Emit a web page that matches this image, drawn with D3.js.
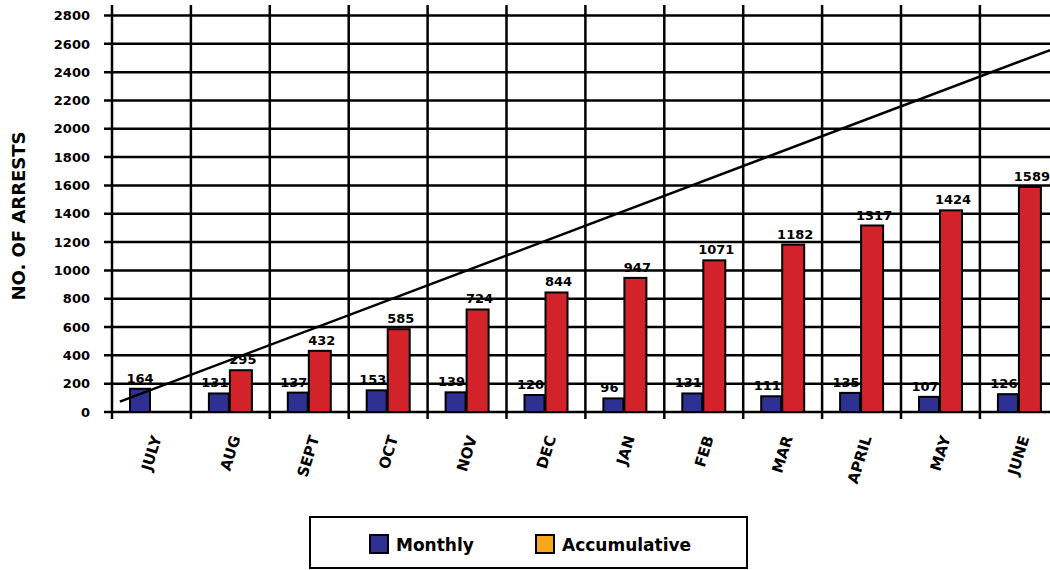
<!DOCTYPE html>
<html>
<head>
<meta charset="utf-8">
<script src="https://cdn.jsdelivr.net/npm/d3@7"></script>
<style>
  html, body { margin: 0; padding: 0; background: #fff; }
  svg { display: block; }
  text { font-family: "DejaVu Sans", "Liberation Sans", sans-serif; }
</style>
</head>
<body>
<svg id="chart" width="1050" height="570"></svg>
<script>
// ---- Data ----
const months = ["JULY","AUG","SEPT","OCT","NOV","DEC","JAN","FEB","MAR","APRIL","MAY","JUNE"];
const monthly = [164,131,137,153,139,120,96,131,111,135,107,126];
const accumulative = [null,295,432,585,724,844,947,1071,1182,1317,1424,1589];
const yTicks = [0,200,400,600,800,1000,1200,1400,1600,1800,2000,2200,2400,2600,2800];
// trend line endpoints: position in months from JULY (0 = JULY), value
const trendPos = [-0.4, 11.39];
const trendVal = [73, 2556];
const legendLabels = ["Monthly", "Accumulative"];

// ---- Styles ----
const colMonthly = "#2E3192";
const colAccum = "#D2232A";
const colLegendAccum = "#F7A71C";

const svg = d3.select("#chart");
svg.append("rect").attr("width",1050).attr("height",570).attr("fill","#fff");

const plotLeft = 112, step = 78.9;
const x = d3.scaleBand().domain(months).range([plotLeft, plotLeft + step*months.length]).padding(0);
const y = d3.scaleLinear().domain([0,2800]).range([412, 15.5]);

const g = svg.append("g");

// horizontal gridlines
g.selectAll("line.h").data(yTicks).enter().append("line")
  .attr("x1", 104).attr("x2", 1050)
  .attr("y1", d=>y(d)).attr("y2", d=>y(d))
  .attr("stroke","#000").attr("stroke-width",2.5);

// vertical gridlines
g.selectAll("line.v").data(months).enter().append("line")
  .attr("x1", d=>x(d)).attr("x2", d=>x(d))
  .attr("y1", 5).attr("y2", 419)
  .attr("stroke","#000").attr("stroke-width",2.5);

// y tick labels
g.selectAll("text.yt").data(yTicks).enter().append("text")
  .attr("x", 90).attr("y", d=>y(d)).attr("dy","0.36em")
  .attr("text-anchor","end").attr("font-size",13).attr("font-weight","bold")
  .text(d=>d);

// y axis title
svg.append("text")
  .attr("transform","translate(25,216) rotate(-90)")
  .attr("text-anchor","middle").attr("font-size",18).attr("font-weight","bold")
  .text("NO. OF ARRESTS");

// bars
const bw = x.bandwidth();
const blueX = 18, blueW = 20, redX = 39, redW = 22;
g.selectAll("rect.m").data(months).enter().append("rect")
  .attr("x", d=>x(d)+blueX).attr("width", blueW)
  .attr("y", (d,i)=>y(monthly[i])).attr("height",(d,i)=>y(0)-y(monthly[i]))
  .attr("fill", colMonthly).attr("stroke","#000").attr("stroke-width",2);
const accData = months.map((m,i)=>({m, v: accumulative[i]})).filter(d=>d.v!=null);
g.selectAll("rect.a").data(accData).enter().append("rect")
  .attr("x", d=>x(d.m)+redX).attr("width", redW)
  .attr("y", d=>y(d.v)).attr("height", d=>y(0)-y(d.v))
  .attr("fill", colAccum).attr("stroke","#000").attr("stroke-width",2);

// trend line
const xPos = p => x(months[0]) + bw/2 + p*step;
svg.append("line")
  .attr("x1", xPos(trendPos[0])).attr("y1", y(trendVal[0]))
  .attr("x2", xPos(trendPos[1])).attr("y2", y(trendVal[1]))
  .attr("stroke","#000").attr("stroke-width",2.5);

// value labels
g.selectAll("text.ml").data(months).enter().append("text")
  .attr("x", (d,i)=>x(d)+blueX+blueW/2 - (accumulative[i]==null?0:4))
  .attr("y", (d,i)=>y(monthly[i]) - 6)
  .attr("text-anchor","middle").attr("font-size",13).attr("font-weight","bold")
  .text((d,i)=>monthly[i]);
g.selectAll("text.al").data(accData).enter().append("text")
  .attr("x", d=>x(d.m)+redX+redW/2 + 2)
  .attr("y", d=>y(d.v) - 6)
  .attr("text-anchor","middle").attr("font-size",13).attr("font-weight","bold")
  .text(d=>d.v);

// x labels
g.selectAll("text.xl").data(months).enter().append("text")
  .attr("transform", d=>`translate(${x(d)+bw/2+5},436) rotate(-73)`)
  .attr("dy","0.36em")
  .attr("text-anchor","end").attr("font-size",15).attr("font-weight","bold")
  .text(d=>d);

// legend
const lg = svg.append("g");
lg.append("rect").attr("x",310).attr("y",517).attr("width",437).attr("height",51)
  .attr("fill","#fff").attr("stroke","#000").attr("stroke-width",2);
const legendColors = [colMonthly, colLegendAccum];
const legendX = [370, 536];
legendLabels.forEach((lab,i)=>{
  lg.append("rect").attr("x",legendX[i]).attr("y",535).attr("width",18).attr("height",18)
    .attr("fill",legendColors[i]).attr("stroke","#000").attr("stroke-width",2);
  lg.append("text").attr("x",legendX[i]+26).attr("y",551)
    .attr("font-size",17).attr("font-weight","bold").text(lab);
});
</script>
</body>
</html>
